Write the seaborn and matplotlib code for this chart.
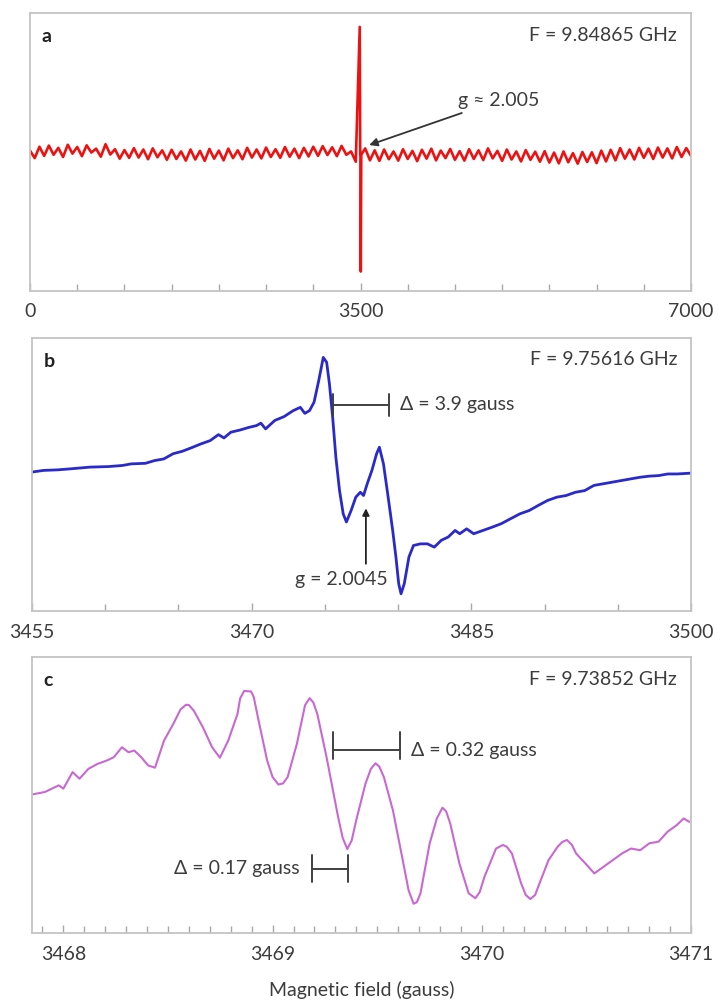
import numpy as np
import matplotlib
matplotlib.use("Agg")
import matplotlib.pyplot as plt
import seaborn as sns

sns.set_theme(style="white")
plt.rcParams["font.family"] = ["Lato", "DejaVu Sans"]

# ---------------- data ----------------
# Panel a: wide sweep (0-7000 G), baseline noise sampled every 50 G
a_field = np.arange(0, 7001, 50)
a_signal = [
    50.5, 47.8, 51.9, 48.6, 52.3, 49.0, 51.5, 48.2, 52.6, 49.4,
    51.8, 48.5, 52.4, 49.8, 51.2, 48.3, 52.8, 49.1, 51.0, 47.6,
    50.7, 47.9, 51.4, 48.0, 50.9, 47.4, 51.3, 48.1, 50.6, 47.2,
    50.8, 47.5, 50.2, 46.9, 50.9, 47.3, 50.4, 46.8, 51.1, 47.6,
    50.5, 47.0, 51.2, 47.8, 50.6, 47.4, 51.5, 48.0, 50.9, 47.7,
    51.6, 48.2, 51.0, 47.9, 51.8, 48.3, 51.2, 47.8, 51.5, 48.4,
    51.9, 48.6, 52.1, 48.9, 51.7, 48.5, 52.2, 49.0, 50.2, 46.5,
    49.0, 51.3, 47.0, 50.6, 46.8, 50.9, 47.4, 50.2, 46.9, 51.0,
    47.5, 50.4, 46.7, 50.8, 47.6, 51.2, 47.0, 50.5, 47.8, 51.1,
    47.2, 50.3, 46.9, 51.0, 47.5, 50.6, 47.1, 51.3, 47.7, 50.4,
    46.8, 50.9, 47.3, 50.2, 46.6, 50.7, 47.2, 50.1, 46.5, 50.3,
    46.2, 49.8, 45.9, 50.2, 46.3, 49.6, 45.8, 50.0, 46.4, 49.9,
    46.0, 50.5, 46.6, 50.8, 47.0, 51.4, 47.6, 50.9, 47.3, 51.5,
    47.9, 51.2, 47.5, 51.6, 48.0, 51.3, 47.7, 51.8, 48.2, 51.4,
    48.6,
]
a_spike_field = [3492, 3497, 3503, 3508]
a_spike_signal = [95.0, 49.0, 7.0, 49.0]

# Panel b: 3455-3500 G
b_field = [3455.00, 3455.79, 3456.74, 3457.68, 3458.95, 3460.21, 3461.16, 3461.79,
           3462.74, 3463.37, 3464.00, 3464.63, 3465.26, 3465.89, 3466.53, 3467.16,
           3467.73, 3468.11, 3468.58, 3469.21, 3469.84, 3470.32, 3470.63, 3470.95,
           3471.58, 3472.21, 3472.84, 3473.32, 3473.63, 3473.95, 3474.26, 3474.58,
           3474.89, 3475.12, 3475.31, 3475.53, 3475.75, 3476.00, 3476.25, 3476.47,
           3476.79, 3477.11, 3477.42, 3477.64, 3477.89, 3478.21, 3478.53, 3478.72,
           3479.00, 3479.32, 3479.63, 3479.85, 3480.04, 3480.20, 3480.42, 3480.74,
           3481.05, 3481.53, 3482.00, 3482.47, 3482.95, 3483.42, 3483.89, 3484.21,
           3484.68, 3485.16, 3485.79, 3486.42, 3487.05, 3487.68, 3488.32, 3488.95,
           3489.58, 3490.21, 3490.84, 3491.47, 3492.11, 3492.74, 3493.37, 3494.00,
           3494.63, 3495.26, 3495.89, 3496.53, 3497.16, 3497.79, 3498.42, 3499.05,
           3500.00]
b_signal = [50.9, 51.5, 51.7, 52.1, 52.7, 52.9, 53.3, 53.9,
            54.1, 55.1, 55.7, 57.6, 58.5, 59.8, 61.2, 62.4,
            64.6, 63.4, 65.5, 66.3, 67.3, 67.9, 68.8, 66.7,
            69.8, 71.2, 73.4, 74.6, 72.4, 73.4, 76.5, 84.4,
            92.9, 91.1, 83.2, 71.0, 56.3, 44.1, 35.6, 32.6,
            36.8, 41.7, 43.5, 42.3, 46.6, 51.5, 57.6, 60.0,
            53.9, 41.7, 29.5, 19.8, 10.0, 6.3, 10.0, 19.8,
            24.0, 24.6, 24.6, 23.4, 25.9, 27.1, 29.5, 28.3,
            30.1, 28.3, 29.5, 30.7, 32.0, 33.8, 35.6, 36.8,
            38.7, 40.5, 41.7, 42.3, 43.5, 44.1, 46.0, 46.6,
            47.2, 47.8, 48.4, 49.0, 49.4, 49.6, 50.2, 50.2,
            50.5]

# Panel c: 3467.85-3471 G
c_field = [3467.851, 3467.912, 3467.978, 3468.000, 3468.044, 3468.077, 3468.120, 3468.164,
           3468.208, 3468.241, 3468.280, 3468.311, 3468.339, 3468.372, 3468.405, 3468.438,
           3468.481, 3468.525, 3468.560, 3468.586, 3468.600, 3468.624, 3468.667, 3468.711,
           3468.748, 3468.788, 3468.832, 3468.845, 3468.864, 3468.897, 3468.910, 3468.930,
           3468.974, 3469.000, 3469.028, 3469.050, 3469.072, 3469.116, 3469.155, 3469.177,
           3469.195, 3469.214, 3469.258, 3469.313, 3469.335, 3469.357, 3469.378, 3469.400,
           3469.444, 3469.470, 3469.492, 3469.510, 3469.532, 3469.575, 3469.619, 3469.650,
           3469.674, 3469.690, 3469.707, 3469.751, 3469.785, 3469.812, 3469.830, 3469.849,
           3469.893, 3469.937, 3469.969, 3469.990, 3470.013, 3470.068, 3470.101, 3470.120,
           3470.144, 3470.188, 3470.210, 3470.232, 3470.255, 3470.276, 3470.319, 3470.363,
           3470.385, 3470.407, 3470.430, 3470.451, 3470.495, 3470.538, 3470.582, 3470.626,
           3470.670, 3470.713, 3470.757, 3470.801, 3470.845, 3470.888, 3470.932, 3470.965,
           3470.991]
c_signal = [50.2, 51.1, 53.5, 52.3, 58.3, 55.9, 59.5, 61.3,
            62.5, 63.7, 67.3, 65.5, 66.1, 63.7, 60.7, 59.9,
            69.7, 75.7, 81.0, 82.7, 82.6, 80.5, 74.5, 67.3,
            63.5, 69.7, 79.3, 85.0, 87.7, 87.5, 85.5, 78.1,
            62.5, 56.5, 53.8, 54.2, 56.5, 68.5, 82.5, 85.1,
            83.5, 79.3, 63.7, 42.1, 34.5, 30.4, 33.5, 40.9,
            54.1, 59.5, 61.5, 60.3, 56.5, 44.5, 27.6, 15.5,
            10.6, 11.2, 14.4, 32.5, 41.5, 45.4, 44.0, 39.7,
            25.2, 14.4, 12.6, 14.8, 20.4, 30.6, 31.9, 31.2,
            28.8, 18.0, 13.8, 12.3, 13.8, 18.0, 26.4, 31.3,
            33.0, 33.7, 32.0, 28.8, 25.2, 21.6, 24.0, 26.4,
            28.8, 30.6, 30.0, 32.5, 33.1, 36.7, 39.1, 41.5,
            40.3]

freq_labels = ["F = 9.84865 GHz", "F = 9.75616 GHz", "F = 9.73852 GHz"]
panel_letters = ["a", "b", "c"]
a_ticks = [0, 3500, 7000]
b_ticks = [3455, 3470, 3485, 3500]
c_ticks = [3468, 3469, 3470, 3471]

# ---------------- figure ----------------
W, H = 718, 1000
fig = plt.figure(figsize=(W / 100, H / 100), dpi=100)

def px_axes(left, top, right, bottom):
    return fig.add_axes([left / W, 1 - bottom / H, (right - left) / W, (bottom - top) / H])

ax_a = px_axes(30, 13, 691, 291)
ax_b = px_axes(32, 338, 691, 611)
ax_c = px_axes(32, 657, 691, 933)

txt_col = "#3c3c3c"
FS = 14

# merge panel a baseline and spike
a_x = np.concatenate([a_field, a_spike_field])
a_y = np.concatenate([a_signal, a_spike_signal])
order = np.argsort(a_x, kind="stable")
sns.lineplot(x=a_x[order], y=a_y[order], ax=ax_a, color="#ee1111", lw=1.9,
             estimator=None, sort=False)
sns.lineplot(x=b_field, y=b_signal, ax=ax_b, color="#2a2acc", lw=2.0,
             estimator=None, sort=False)
sns.lineplot(x=c_field, y=c_signal, ax=ax_c, color="#c968d2", lw=1.5,
             estimator=None, sort=False)

ax_a.set_xlim(0, 7000)
ax_b.set_xlim(3455, 3500)
ax_c.set_xlim(3467.85, 3471)

for ax, ticks, minor, letter, flab in [
    (ax_a, a_ticks, np.arange(0, 7001, 500), panel_letters[0], freq_labels[0]),
    (ax_b, b_ticks, np.arange(3455, 3501, 5), panel_letters[1], freq_labels[1]),
    (ax_c, c_ticks, np.round(np.arange(3467.9, 3471.001, 0.1), 1), panel_letters[2], freq_labels[2]),
]:
    ax.set_ylim(0, 100)
    ax.set_yticks([])
    ax.set_xticks(ticks)
    ax.set_xticklabels([str(t) for t in ticks])
    ax.set_xticks(minor, minor=True)
    ax.tick_params(axis="x", which="both", bottom=True, direction="in", length=6, width=1.0,
                   color="#a8a8a8", pad=9, labelsize=FS, labelcolor=txt_col)
    ax.tick_params(axis="x", which="minor", labelbottom=False, length=5)
    for s in ax.spines.values():
        s.set_color("#c4c4c4")
        s.set_linewidth(1.3)
    ax.set_xlabel("")
    ax.set_ylabel("")
    ax.text(0.018, 0.915, letter, transform=ax.transAxes, fontsize=FS,
            fontweight="bold", color="#222222", ha="left", va="center")
    ax.text(0.979, 0.92, flab, transform=ax.transAxes, fontsize=FS,
            color=txt_col, ha="right", va="center")

# panel a annotation
ax_a.annotate("g \u2248 2.005", xy=(3592, 52.5), xytext=(4530, 68.6),
              fontsize=FS, color=txt_col, ha="left", va="center",
              arrowprops=dict(arrowstyle="-|>", color="#333333", lw=1.3,
                              shrinkA=2, shrinkB=0, mutation_scale=12))

# panel b annotations
bk = "#404040"
ax_b.plot([3475.53, 3479.41], [75.6, 75.6], color=bk, lw=1.4)
ax_b.plot([3475.53, 3475.53], [71.6, 79.5], color=bk, lw=1.4)
ax_b.plot([3479.41, 3479.41], [71.6, 79.5], color=bk, lw=1.4)
ax_b.text(3480.1, 75.6, "\u0394 = 3.9 gauss", fontsize=FS, color=txt_col,
          ha="left", va="center")
ax_b.annotate("", xy=(3477.8, 37.6), xytext=(3477.8, 17.3),
              arrowprops=dict(arrowstyle="-|>", color="#222222", lw=1.3,
                              shrinkA=0, shrinkB=0, mutation_scale=10))
ax_b.text(3476.1, 11.5, "g = 2.0045", fontsize=FS, color=txt_col,
          ha="center", va="center")

# panel c annotations
ax_c.plot([3469.287, 3469.608], [66.3, 66.3], color=bk, lw=1.4)
ax_c.plot([3469.287, 3469.287], [63.1, 72.7], color=bk, lw=1.4)
ax_c.plot([3469.608, 3469.608], [63.1, 72.7], color=bk, lw=1.4)
ax_c.text(3469.66, 66.3, "\u0394 = 0.32 gauss", fontsize=FS, color=txt_col,
          ha="left", va="center")
ax_c.plot([3469.19, 3469.36], [23.2, 23.2], color=bk, lw=1.4)
ax_c.plot([3469.19, 3469.19], [18.6, 28.2], color=bk, lw=1.4)
ax_c.plot([3469.36, 3469.36], [18.6, 28.2], color=bk, lw=1.4)
ax_c.text(3469.13, 23.2, "\u0394 = 0.17 gauss", fontsize=FS, color=txt_col,
          ha="right", va="center")

ax_c.set_xlabel("Magnetic field (gauss)", fontsize=FS, color=txt_col, labelpad=13)

fig.patch.set_facecolor("white")
fig.savefig("out.png", dpi=100, facecolor="white")
